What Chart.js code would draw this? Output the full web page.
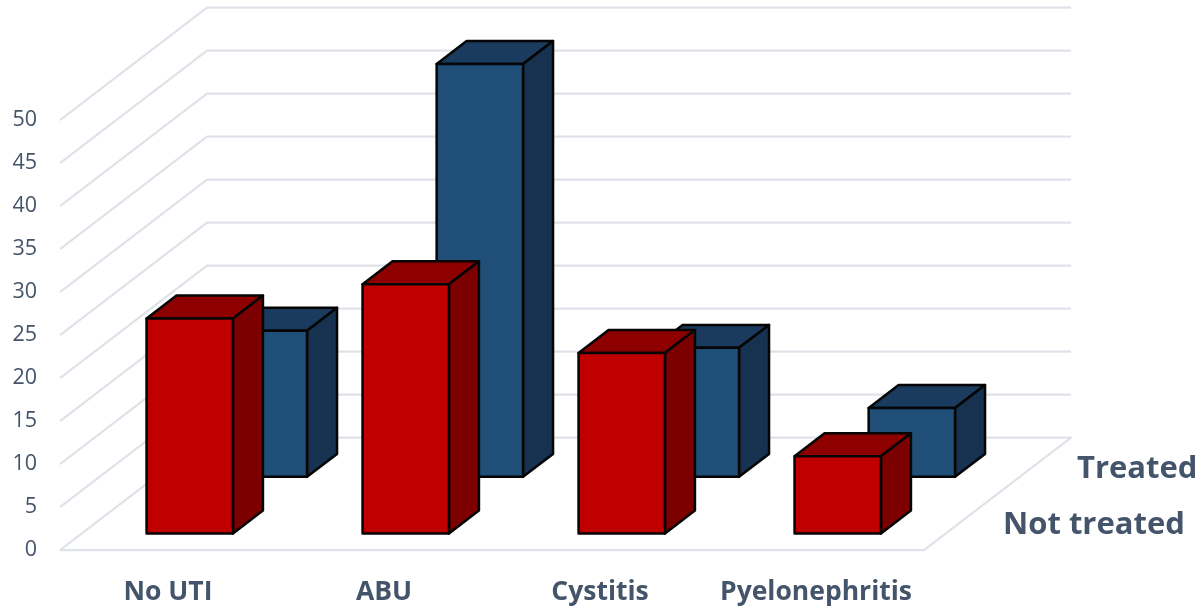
<!DOCTYPE html>
<html>
<head>
<meta charset="utf-8">
<style>
  html, body { margin: 0; padding: 0; background: #fff; }
  canvas { display: block; }
</style>
<script src="https://cdn.jsdelivr.net/npm/chart.js@4"></script>
</head>
<body>
<canvas id="chart" width="1202" height="607"></canvas>
<script>
// UTI groups and patient counts for each treatment row
const categories = ["No UTI", "ABU", "Cystitis", "Pyelonephritis"];
const notTreated = [25, 29, 21, 9];
const treated = [17, 48, 15, 8];
const seriesNames = ["Not treated", "Treated"];

const FONT = '"Open Sans", sans-serif';
const TEXT = "#44546A";
const GRID = "#DFE3E9";

// Receding floor vector: the offset from the front plane to the back wall
const DEPTH_X = 147;
const DEPTH_Y = -112.5;
// Fraction of the floor depth covered by a box
const BOX_DEPTH = 0.204;

// Pseudo-3D floor, side wall and back wall, built on the value scale's ticks
const floorAndWalls = {
  id: "floorAndWalls",
  beforeDatasetsDraw(chart) {
    const { ctx, chartArea: a, scales: { y } } = chart;
    ctx.save();
    ctx.strokeStyle = GRID;
    ctx.lineWidth = 2.2;
    ctx.lineJoin = "round";
    y.ticks.forEach(t => {
      const py = y.getPixelForValue(t.value);
      ctx.beginPath();
      ctx.moveTo(a.left, py);
      ctx.lineTo(a.left + DEPTH_X, py + DEPTH_Y);
      ctx.lineTo(a.right + DEPTH_X, py + DEPTH_Y);
      if (t.value === 0) {
        ctx.lineTo(a.right, py);
        ctx.lineTo(a.left, py);
      }
      ctx.stroke();
    });
    ctx.restore();
  }
};

function poly(ctx, pts, fill) {
  ctx.beginPath();
  pts.forEach((p, i) => i ? ctx.lineTo(p[0], p[1]) : ctx.moveTo(p[0], p[1]));
  ctx.closePath();
  ctx.fillStyle = fill;
  ctx.fill();
  ctx.stroke();
}

// Replaces each flat bar with an extruded box placed on its treatment row
const boxes = {
  id: "boxes",
  beforeDatasetDraw(chart, args) {
    const ds = chart.data.datasets[args.index];
    const { ctx } = chart;
    const sx = DEPTH_X * ds.rowDepth;
    const sy = DEPTH_Y * ds.rowDepth;
    const dx = DEPTH_X * BOX_DEPTH;
    const dy = DEPTH_Y * BOX_DEPTH;
    ctx.save();
    ctx.strokeStyle = "#050505";
    ctx.lineWidth = 2.5;
    ctx.lineJoin = "round";
    args.meta.data.forEach(bar => {
      const l = bar.x - bar.width / 2 + sx;
      const r = bar.x + bar.width / 2 + sx;
      const t = bar.y + sy;
      const b = bar.base + sy;
      poly(ctx, [[l, t], [l + dx, t + dy], [r + dx, t + dy], [r, t]], ds.topColor);
      poly(ctx, [[r, t], [r + dx, t + dy], [r + dx, b + dy], [r, b]], ds.sideColor);
      poly(ctx, [[l, t], [r, t], [r, b], [l, b]], ds.backgroundColor);
    });
    ctx.restore();
    return false;
  }
};

// Names of the treatment rows beside the right edge of the floor
const rowLabels = {
  id: "rowLabels",
  afterDraw(chart) {
    const { ctx } = chart;
    ctx.save();
    ctx.fillStyle = TEXT;
    ctx.font = "700 31px " + FONT;
    ctx.textAlign = "left";
    ctx.textBaseline = "middle";
    ctx.fillText(seriesNames[0], 1003, 525);
    ctx.fillText(seriesNames[1], 1077, 469);
    ctx.restore();
  }
};

new Chart(document.getElementById("chart"), {
  type: "bar",
  data: {
    labels: categories,
    datasets: [
      {
        label: seriesNames[0],
        data: notTreated,
        backgroundColor: "#C00000",
        sideColor: "#7C0000",
        topColor: "#8E0000",
        rowDepth: 0.148
      },
      {
        label: seriesNames[1],
        data: treated,
        backgroundColor: "#1F4E79",
        sideColor: "#163250",
        topColor: "#1A3A5E",
        rowDepth: 0.652
      }
    ]
  },
  options: {
    responsive: false,
    animation: false,
    devicePixelRatio: 1,
    layout: { autoPadding: false, padding: { top: 120.2, right: 278, bottom: 0, left: 0 } },
    plugins: { legend: { display: false }, tooltip: { enabled: false }, title: { display: false } },
    datasets: { bar: { grouped: false, categoryPercentage: 1, barPercentage: 0.4 } },
    scales: {
      x: {
        grid: { display: false, drawTicks: false },
        border: { display: false },
        ticks: {
          color: TEXT,
          font: { family: FONT, size: 26.5, weight: "700" },
          padding: 26,
          maxRotation: 0,
          autoSkip: false
        },
        afterFit(scale) { scale.height = 56.8; }
      },
      y: {
        min: 0,
        max: 50,
        grid: { display: false, drawTicks: false },
        border: { display: false },
        ticks: {
          stepSize: 5,
          color: TEXT,
          font: { family: FONT, size: 21.5 },
          padding: 23
        },
        afterFit(scale) { scale.width = 60; }
      }
    }
  },
  plugins: [floorAndWalls, boxes, rowLabels]
});
</script>
</body>
</html>
